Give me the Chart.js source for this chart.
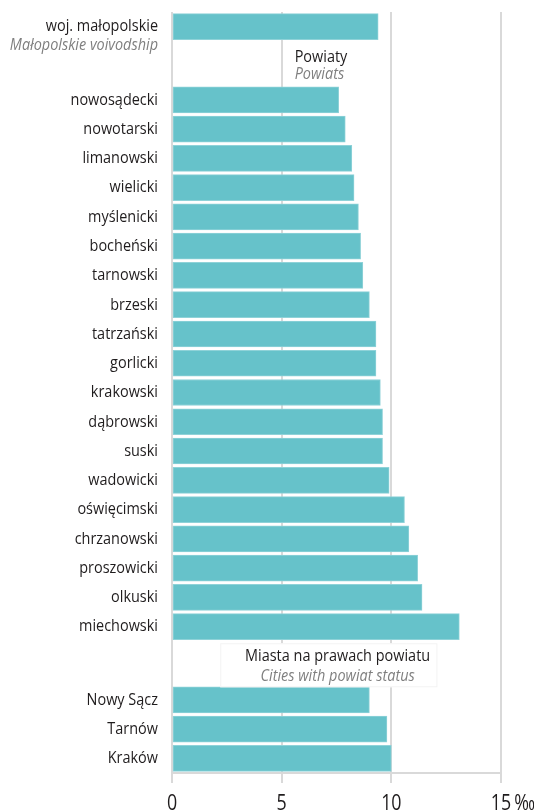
<!DOCTYPE html>
<html lang="pl">
<head>
<meta charset="utf-8">
<title>Małopolskie – powiaty</title>
<script src="https://cdn.jsdelivr.net/npm/chart.js@4/dist/chart.umd.min.js"></script>
<style>
  html, body { margin: 0; padding: 0; background: #ffffff; }
  #wrap { position: relative; width: 534px; height: 811px; }
</style>
</head>
<body>
<div id="wrap"><canvas id="chart"></canvas></div>
<script>
// Voivodship total
const regionLabel = 'woj. małopolskie';
const regionLabelEn = 'Małopolskie voivodship';
const regionValue = 9.4;

// Powiats (land counties)
const powiatLabels = [
  'nowosądecki', 'nowotarski', 'limanowski', 'wielicki', 'myślenicki',
  'bocheński', 'tarnowski', 'brzeski', 'tatrzański', 'gorlicki',
  'krakowski', 'dąbrowski', 'suski', 'wadowicki', 'oświęcimski',
  'chrzanowski', 'proszowicki', 'olkuski', 'miechowski'
];
const powiatValues = [
  7.6, 7.9, 8.2, 8.3, 8.5,
  8.6, 8.7, 9.0, 9.3, 9.3,
  9.5, 9.6, 9.6, 9.9, 10.6,
  10.8, 11.2, 11.4, 13.1
];

// Cities with powiat status
const cityLabels = ['Nowy Sącz', 'Tarnów', 'Kraków'];
const cityValues = [9.0, 9.8, 10.0];

// Group headings
const powiatTitle = ['Powiaty', 'Powiats'];
const cityTitle = ['Miasta na prawach powiatu', 'Cities with powiat status'];

// Value axis
const xTickValues = [0, 5, 10, 15];
const unitLabel = '‰';

const FONT = '"Open Sans", "Noto Sans", sans-serif';
const NARROW = 0.85;         // horizontal squeeze for a condensed look
const BAR = '#66c2ca';
const GRID = '#d9d9d9';
const INK = '#1f1c1d';
const GREY = '#7f7f7f';

// Build the category slots: each bar sits on every other half-step,
// with blank slots opening room for the group headings.
const labels = [];
const values = [];
function slot(label, value) { labels.push(label); values.push(value); }
function blank(n) { for (let i = 0; i < n; i++) slot('', null); }

blank(1);
slot(regionLabel, regionValue);
blank(4);
powiatLabels.forEach((l, i) => { if (i > 0) blank(1); slot(l, powiatValues[i]); });
blank(4);
cityLabels.forEach((l, i) => { if (i > 0) blank(1); slot(l, cityValues[i]); });
blank(1);

const regionIndex = labels.indexOf(regionLabel);
const firstPowiat = labels.indexOf(powiatLabels[0]);
const lastPowiat = labels.indexOf(powiatLabels[powiatLabels.length - 1]);
const firstCity = labels.indexOf(cityLabels[0]);

// Condensed text: draw with a horizontal squeeze around the anchor point
function text(ctx, str, x, y, align, font, color, baseline) {
  ctx.save();
  ctx.translate(x, y);
  ctx.scale(NARROW, 1);
  ctx.font = font;
  ctx.fillStyle = color;
  ctx.textAlign = align;
  ctx.textBaseline = baseline || 'middle';
  ctx.fillText(str, 0, 0);
  const w = ctx.measureText(str).width * NARROW;
  ctx.restore();
  return w;
}

const annotations = {
  id: 'annotations',
  afterDraw(chart) {
    const { ctx, scales, chartArea } = chart;
    const x = scales.x, y = scales.y;
    const regular = '17px ' + FONT;
    const italic = 'italic 17px ' + FONT;

    // Category labels
    const lx = chartArea.left - 14;
    labels.forEach((l, i) => {
      if (!l) return;
      text(ctx, l, lx, y.getPixelForValue(i), 'right', regular, INK);
    });
    text(ctx, regionLabelEn, lx, y.getPixelForValue(regionIndex) + 19, 'right', italic, GREY);

    // Powiats heading
    const py = (y.getPixelForValue(regionIndex) + y.getPixelForValue(firstPowiat)) / 2;
    const px = x.getPixelForValue(5) + 13;
    text(ctx, powiatTitle[0], px, py - 6, 'left', regular, INK);
    text(ctx, powiatTitle[1], px, py + 11, 'left', italic, GREY);

    // Cities heading on a white panel over the grid
    const cy = (y.getPixelForValue(lastPowiat) + y.getPixelForValue(firstCity)) / 2 + 2;
    const boxL = x.getPixelForValue(2.2);
    const boxR = x.getPixelForValue(12.1);
    ctx.save();
    ctx.fillStyle = '#ffffff';
    ctx.fillRect(boxL, cy - 22, boxR - boxL, 44);
    ctx.strokeStyle = '#f3f3f3';
    ctx.lineWidth = 1;
    ctx.strokeRect(boxL + 0.5, cy - 21.5, boxR - boxL - 1, 43);
    ctx.restore();
    const cx = x.getPixelForValue(7.55);
    text(ctx, cityTitle[0], cx, cy - 9, 'center', regular, INK);
    text(ctx, cityTitle[1], cx, cy + 11, 'center', italic, GREY);

    // Value axis labels, with the unit after the last one
    const ty = chartArea.bottom + 37;
    const tickFont = '21px ' + FONT;
    xTickValues.forEach((v, i) => {
      const w = text(ctx, String(v), x.getPixelForValue(v), ty, 'center', tickFont, INK, 'alphabetic');
      if (i === xTickValues.length - 1) {
        text(ctx, unitLabel, x.getPixelForValue(v) + w / 2 + 3, ty, 'left', tickFont, INK, 'alphabetic');
      }
    });
  }
};

new Chart(document.getElementById('chart'), {
  type: 'bar',
  data: {
    labels: labels,
    datasets: [{
      data: values,
      backgroundColor: BAR,
      borderColor: '#8fd2d8',
      borderWidth: 1,
      borderSkipped: false,
      barThickness: 26
    }]
  },
  options: {
    indexAxis: 'y',
    responsive: true,
    maintainAspectRatio: false,
    animation: false,
    devicePixelRatio: 1,
    layout: { padding: { top: 12, right: 33, bottom: 0, left: 0 } },
    plugins: { legend: { display: false }, tooltip: { enabled: false } },
    scales: {
      x: {
        type: 'linear',
        position: 'bottom',
        min: xTickValues[0],
        max: xTickValues[xTickValues.length - 1],
        afterBuildTicks(scale) { scale.ticks = xTickValues.map(v => ({ value: v })); },
        afterFit(scale) { scale.height = 38; },
        grid: { color: GRID, lineWidth: 2, drawTicks: true, tickLength: 10, tickColor: GRID },
        border: { display: true, color: GRID, width: 2 },
        ticks: { display: false }
      },
      y: {
        type: 'category',
        offset: false,
        afterFit(scale) { scale.width = 172; },
        grid: { display: false, drawTicks: false },
        border: { display: false },
        ticks: { display: false, autoSkip: false }
      }
    }
  },
  plugins: [annotations]
});
</script>
</body>
</html>
